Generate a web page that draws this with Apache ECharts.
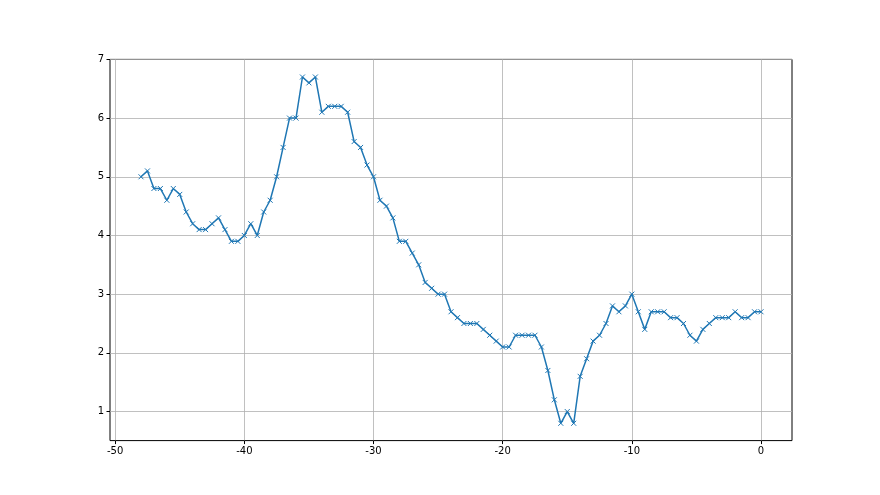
<!DOCTYPE html>
<html>
<head>
<meta charset="utf-8">
<script src="https://cdn.jsdelivr.net/npm/echarts@6/dist/echarts.min.js"></script>
<style>
  html, body { margin: 0; padding: 0; background: #fff; }
  #main { width: 880px; height: 495px; }
</style>
</head>
<body>
<div id="main"></div>
<script>
// x positions (step 0.5 from -48 to 0)
const xs = [
  -48, -47.5, -47, -46.5, -46, -45.5, -45, -44.5, -44, -43.5,
  -43, -42.5, -42, -41.5, -41, -40.5, -40, -39.5, -39, -38.5,
  -38, -37.5, -37, -36.5, -36, -35.5, -35, -34.5, -34, -33.5,
  -33, -32.5, -32, -31.5, -31, -30.5, -30, -29.5, -29, -28.5,
  -28, -27.5, -27, -26.5, -26, -25.5, -25, -24.5, -24, -23.5,
  -23, -22.5, -22, -21.5, -21, -20.5, -20, -19.5, -19, -18.5,
  -18, -17.5, -17, -16.5, -16, -15.5, -15, -14.5, -14, -13.5,
  -13, -12.5, -12, -11.5, -11, -10.5, -10, -9.5, -9, -8.5,
  -8, -7.5, -7, -6.5, -6, -5.5, -5, -4.5, -4, -3.5,
  -3, -2.5, -2, -1.5, -1, -0.5, 0
];
const ys = [
  5.0, 5.1, 4.8, 4.8, 4.6, 4.8, 4.7, 4.4, 4.2, 4.1,
  4.1, 4.2, 4.3, 4.1, 3.9, 3.9, 4.0, 4.2, 4.0, 4.4,
  4.6, 5.0, 5.5, 6.0, 6.0, 6.7, 6.6, 6.7, 6.1, 6.2,
  6.2, 6.2, 6.1, 5.6, 5.5, 5.2, 5.0, 4.6, 4.5, 4.3,
  3.9, 3.9, 3.7, 3.5, 3.2, 3.1, 3.0, 3.0, 2.7, 2.6,
  2.5, 2.5, 2.5, 2.4, 2.3, 2.2, 2.1, 2.1, 2.3, 2.3,
  2.3, 2.3, 2.1, 1.7, 1.2, 0.8, 1.0, 0.8, 1.6, 1.9,
  2.2, 2.3, 2.5, 2.8, 2.7, 2.8, 3.0, 2.7, 2.4, 2.7,
  2.7, 2.7, 2.6, 2.6, 2.5, 2.3, 2.2, 2.4, 2.5, 2.6,
  2.6, 2.6, 2.7, 2.6, 2.6, 2.7, 2.7
];
const xTicks = [-50, -40, -30, -20, -10, 0];
const yTicks = [1, 2, 3, 4, 5, 6, 7];

let points = [];
for (let i = 0; i < xs.length; i++) {
  points.push([xs[i], ys[i]]);
}

let myChart = echarts.init(document.getElementById('main'));
const labelStyle = {
  fontFamily: 'DejaVu Sans',
  fontSize: 10,
  color: '#000'
};
let option = {
  animation: false,
  grid: {
    left: 110, right: 88, top: 59.4, bottom: 54.4,
    show: true, borderColor: '#000', borderWidth: 1
  },
  xAxis: {
    type: 'value',
    min: -50.4,
    max: 2.4,
    axisLine: { show: false, onZero: false },
    axisTick: { show: true, length: 3.5, lineStyle: { color: '#000' }, customValues: xTicks },
    axisLabel: Object.assign({ margin: 6, customValues: xTicks }, labelStyle),
    splitLine: { show: true, lineStyle: { color: '#b0b0b0', width: 0.8 } }
  },
  yAxis: {
    type: 'value',
    min: 0.505,
    max: 7,
    axisLine: { show: false, onZero: false },
    axisTick: { show: true, length: 3.5, lineStyle: { color: '#000' }, customValues: yTicks },
    axisLabel: Object.assign({ margin: 6, customValues: yTicks }, labelStyle),
    splitLine: { show: true, lineStyle: { color: '#b0b0b0', width: 0.8 } }
  },
  series: [{
    type: 'line',
    data: points,
    symbol: 'path://M0,0L10,10M10,0L0,10',
    symbolSize: 5,
    showSymbol: true,
    lineStyle: { color: '#1f77b4', width: 1.5 },
    itemStyle: { color: 'none', borderColor: '#1f77b4', borderWidth: 1 }
  }]
};
myChart.setOption(option);
</script>
</body>
</html>
